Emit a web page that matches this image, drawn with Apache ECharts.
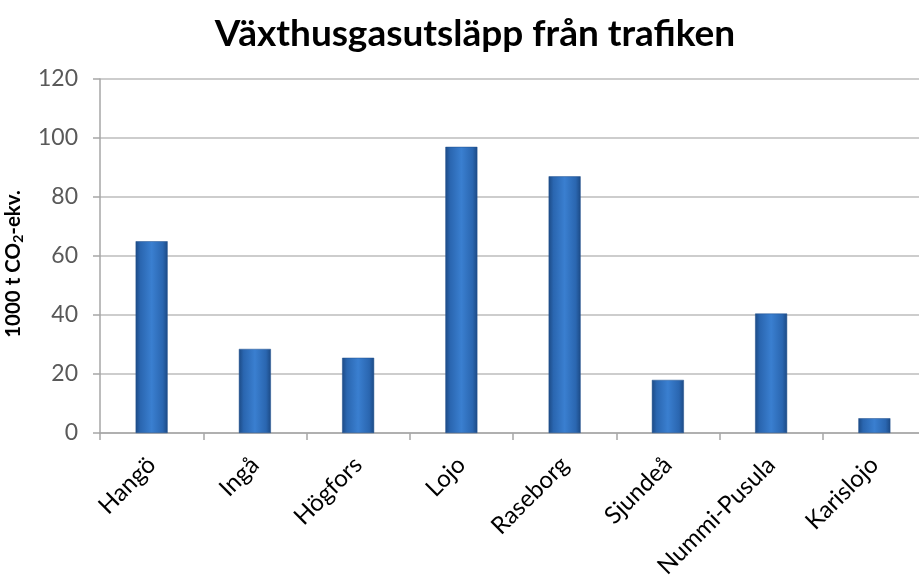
<!DOCTYPE html>
<html>
<head>
<meta charset="utf-8">
<script src="https://cdn.jsdelivr.net/npm/echarts@6/dist/echarts.min.js"></script>
<style>html,body{margin:0;padding:0;background:#fff}#c{width:919px;height:577px}</style>
</head>
<body>
<div id="c"></div>
<script>
const categories = ['Hangö', 'Ingå', 'Högfors', 'Lojo', 'Raseborg', 'Sjundeå', 'Nummi-Pusula', 'Karislojo'];
const values = [65, 28.5, 25.5, 97, 87, 18, 40.5, 5];
const yTicks = { min: 0, max: 120, interval: 20 };
const titleText = 'Växthusgasutsläpp från trafiken';

const font = 'Lato, "Open Sans", sans-serif';
const chart = echarts.init(document.getElementById('c'));
chart.setOption({
  animation: false,
  title: {
    text: titleText, left: 470, top: 11, textAlign: 'center',
    textStyle: { fontFamily: font, fontSize: 37, fontWeight: 'bold', color: '#000' }
  },
  grid: { left: 100, right: -7, top: 79, bottom: 144, outerBoundsMode: 'none', containLabel: false },
  xAxis: {
    type: 'category', data: categories,
    axisLine: { lineStyle: { color: '#a6a6a6', width: 1.5 } },
    axisTick: { show: true, length: 7, lineStyle: { color: '#a6a6a6', width: 1.5 } },
    axisLabel: { rotate: 45, margin: 28, fontFamily: font, fontSize: 24, color: '#000' }
  },
  yAxis: {
    type: 'value', min: yTicks.min, max: yTicks.max, interval: yTicks.interval,
    name: '{a|1000 t CO}{s|2}{a|-ekv.}{p|}',
    nameLocation: 'middle', nameRotate: 90, nameGap: 75,
    nameTextStyle: {
      rich: {
        a: { fontFamily: font, fontSize: 20.5, fontWeight: 'bold', color: '#000' },
        s: { fontFamily: font, fontSize: 14, fontWeight: 'bold', color: '#000', verticalAlign: 'bottom', padding: [10, 0, 0, 0] },
        p: { width: 16 }
      }
    },
    axisLine: { show: true, lineStyle: { color: '#a6a6a6', width: 1.5 } },
    axisTick: { show: true, length: 7, lineStyle: { color: '#a6a6a6', width: 1.5 } },
    axisLabel: { margin: 22, fontFamily: font, fontSize: 23, color: '#595959' },
    splitLine: { lineStyle: { color: '#bdbdbd', width: 1.5 } }
  },
  series: [{
    type: 'bar', data: values, barWidth: 32,
    itemStyle: {
      color: new echarts.graphic.LinearGradient(0, 0, 1, 0, [
        { offset: 0, color: '#1c4a85' },
        { offset: 0.15, color: '#2a66b0' },
        { offset: 0.5, color: '#3a7fd0' },
        { offset: 0.85, color: '#2a66b0' },
        { offset: 1, color: '#1c4a85' }
      ]),
      borderColor: '#1f4e8c', borderWidth: 0.5
    }
  }]
});
</script>
</body>
</html>
